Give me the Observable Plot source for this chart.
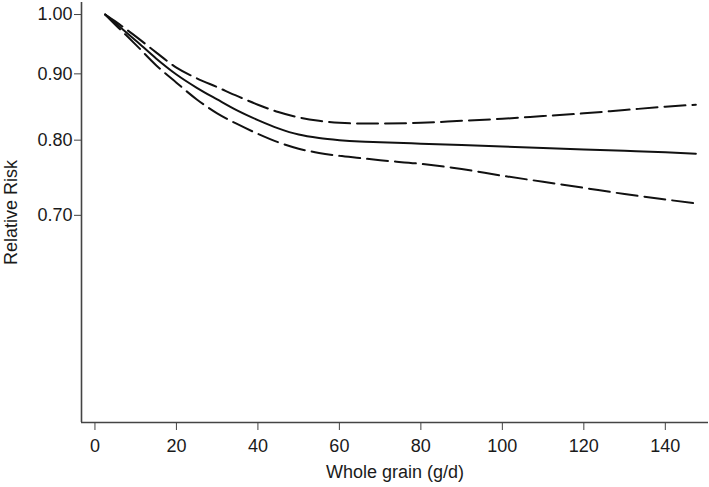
<!DOCTYPE html>
<html><head><meta charset="utf-8">
<script src="https://cdn.jsdelivr.net/npm/d3@7"></script>
<script src="https://cdn.jsdelivr.net/npm/@observablehq/plot@0.6"></script>
<style>body{margin:0;background:#fff}</style>
</head><body><div id="chart"></div>
<script>
const wholeGrain = [2.5, 5, 7.5, 10, 15, 20, 25, 30, 35, 40, 45, 50, 55, 60, 65, 70, 80, 90, 100, 110, 120, 130, 140, 147.5];
const rrEstimate = [1.0, 0.985, 0.970, 0.955, 0.925, 0.899, 0.878, 0.860, 0.843, 0.829, 0.817, 0.808, 0.803, 0.800, 0.798, 0.797, 0.795, 0.793, 0.791, 0.789, 0.787, 0.785, 0.783, 0.781];
const rrUpper    = [1.0, 0.988, 0.975, 0.962, 0.935, 0.910, 0.893, 0.879, 0.865, 0.852, 0.841, 0.833, 0.828, 0.825, 0.824, 0.824, 0.825, 0.828, 0.831, 0.835, 0.839, 0.844, 0.849, 0.852];
const rrLower    = [1.0, 0.982, 0.965, 0.948, 0.914, 0.886, 0.860, 0.839, 0.823, 0.809, 0.797, 0.788, 0.782, 0.778, 0.775, 0.772, 0.767, 0.760, 0.751, 0.743, 0.735, 0.727, 0.720, 0.715];
const xTicks = [0, 20, 40, 60, 80, 100, 120, 140];
const yTicks = [0.70, 0.80, 0.90, 1.00];
const xDomain = [-3.3, 150.6];
const yDomain = [0.4845, 1.0216];

const rows = wholeGrain.map((x, i) => ({x, est: rrEstimate[i], hi: rrUpper[i], lo: rrLower[i]}));

const axisColor = "#444";
const chart = Plot.plot({
  width: 709, height: 487,
  marginLeft: 81, marginRight: 1, marginTop: 2, marginBottom: 65,
  style: {fontFamily: "'Liberation Sans', Arial, Helvetica, sans-serif", fontSize: "18px", color: "#1a1a1a", background: "#fff"},
  x: {domain: xDomain},
  y: {type: "log", domain: yDomain},
  marks: [
    Plot.axisX({ticks: xTicks, tickSize: 8, tickPadding: 9, stroke: axisColor, fontSize: 18,
      label: "Whole grain (g/d)", labelAnchor: "center", labelOffset: 55, labelArrow: "none"}),
    Plot.axisY({ticks: yTicks, tickFormat: d => d.toFixed(2), tickSize: 7, tickPadding: 2, stroke: axisColor, fontSize: 18,
      label: "Relative Risk", labelAnchor: "center", labelOffset: 77, labelArrow: "none"}),
    Plot.ruleX([xDomain[0]], {stroke: axisColor, strokeWidth: 1.6}),
    Plot.ruleY([yDomain[0]], {stroke: axisColor, strokeWidth: 1.6}),
    Plot.line(rows, {x: "x", y: "hi", curve: "monotone-x", stroke: "#111", strokeWidth: 2, strokeDasharray: "21,7"}),
    Plot.line(rows, {x: "x", y: "lo", curve: "monotone-x", stroke: "#111", strokeWidth: 2, strokeDasharray: "21,7"}),
    Plot.line(rows, {x: "x", y: "est", curve: "monotone-x", stroke: "#111", strokeWidth: 2})
  ]
});
document.getElementById("chart").appendChild(chart);
</script>
</body></html>
